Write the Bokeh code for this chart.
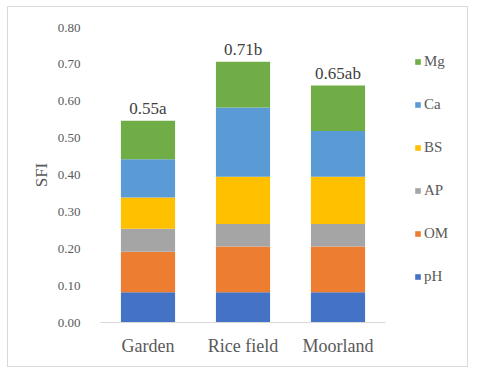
from bokeh.plotting import figure
from bokeh.models import Range1d, Legend, LegendItem, ColumnDataSource, NumeralTickFormatter, FixedTicker
from bokeh.core.properties import value
from bokeh.embed import file_html
from bokeh.resources import INLINE

categories = ["Garden", "Rice field", "Moorland"]
series = ["pH", "OM", "AP", "BS", "Ca", "Mg"]
pH = [0.082, 0.082, 0.082]
OM = [0.110, 0.124, 0.124]
AP = [0.062, 0.061, 0.061]
BS = [0.085, 0.128, 0.128]
Ca = [0.104, 0.188, 0.124]
Mg = [0.104, 0.124, 0.124]
total_labels = ["0.55a", "0.71b", "0.65ab"]
y_ticks = [0.0, 0.1, 0.2, 0.3, 0.4, 0.5, 0.6, 0.7, 0.8]
colors = ["#4472C4", "#ED7D31", "#A5A5A5", "#FFC000", "#5B9BD5", "#70AD47"]

FONT = "Liberation Serif"

# category centres on a numeric axis (one unit per category)
xpos = [i + 0.5 for i in range(len(categories))]

data = {"x": xpos, "pH": pH, "OM": OM, "AP": AP, "BS": BS, "Ca": Ca, "Mg": Mg}
source = ColumnDataSource(data)

totals = [sum(v) for v in zip(pH, OM, AP, BS, Ca, Mg)]
label_source = ColumnDataSource({"x": xpos, "y": totals, "text": total_labels})

n = len(categories)
p = figure(
    x_range=Range1d(0, n * 358 / 285),
    y_range=Range1d(0, 0.8),
    width=459, height=359,
    output_backend="svg", toolbar_location=None,
    min_border_left=92, min_border_right=9, min_border_top=20, min_border_bottom=44,
    styles={"outline": "1px solid #d9d9d9", "margin-left": "8px", "margin-top": "7px"},
)
p.outline_line_color = None
p.xgrid.grid_line_color = None
p.ygrid.grid_line_color = None

renderers = p.vbar_stack(series, x="x", width=0.57, color=colors, line_color=None, source=source)

p.text(x="x", y="y", text="text", source=label_source,
       text_align="center", text_baseline="alphabetic", y_offset=-12,
       text_font=value(FONT), text_font_size="17px", text_color="#404040")

# axes
p.yaxis.ticker = FixedTicker(ticks=y_ticks)
p.yaxis.formatter = NumeralTickFormatter(format="0.00")
p.yaxis.axis_line_color = None
p.yaxis.major_tick_line_color = None
p.yaxis.minor_tick_line_color = None
p.yaxis.major_label_standoff = 14
p.yaxis.major_label_text_font = FONT
p.yaxis.major_label_text_font_size = "13px"
p.yaxis.major_label_text_color = "#595959"
p.yaxis.axis_label = "SFI"
p.yaxis.axis_label_text_font = FONT
p.yaxis.axis_label_text_font_size = "17px"
p.yaxis.axis_label_text_font_style = "normal"
p.yaxis.axis_label_text_color = "#595959"
p.yaxis.axis_label_standoff = 4

p.xaxis.bounds = (0, n)
p.xaxis.ticker = FixedTicker(ticks=xpos)
p.xaxis.major_label_overrides = {x: c for x, c in zip(xpos, categories)}
p.xaxis.axis_line_color = "#d9d9d9"
p.xaxis.major_tick_line_color = None
p.xaxis.minor_tick_line_color = None
p.xaxis.major_label_standoff = 7
p.xaxis.major_label_text_font = FONT
p.xaxis.major_label_text_font_size = "18px"
p.xaxis.major_label_text_color = "#595959"

items = [LegendItem(label=name, renderers=[r]) for name, r in zip(series, renderers)]
items = items[::-1]
legend = Legend(items=items, location=(314, 36), orientation="vertical",
                glyph_width=7, glyph_height=7, label_standoff=3,
                label_height=20, spacing=23, padding=0, margin=0,
                border_line_color=None, background_fill_alpha=0,
                label_text_font=FONT, label_text_font_size="15px",
                label_text_color="#595959")
p.add_layout(legend, "center")

open("out.html", "w").write(file_html(p, INLINE))
